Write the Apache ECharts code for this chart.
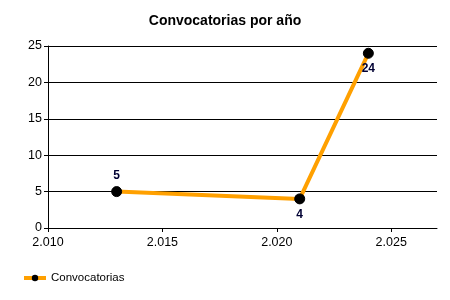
<!DOCTYPE html>
<html><head><meta charset="utf-8">
<script src="https://cdn.jsdelivr.net/npm/echarts@6/dist/echarts.min.js"></script>
<style>html,body{margin:0;padding:0;background:#fff}#c{width:450px;height:300px}</style>
</head><body><div id="c"></div>
<script>
const title = 'Convocatorias por año';
const seriesName = 'Convocatorias';
const years = [2013, 2021, 2024];
const values = [5, 4, 24];
const xTicks = [2010, 2015, 2020, 2025];

const fmt = v => { const s = String(Math.round(v)); return s.length > 3 ? s.slice(0, s.length - 3) + '.' + s.slice(-3) : s; };
const font = 'Liberation Sans, Arial, sans-serif';
const chart = echarts.init(document.getElementById('c'), null, {renderer: 'canvas'});
chart.setOption({
  animation: false,
  backgroundColor: '#fff',
  title: {text: title, left: 'center', top: 9, textStyle: {fontFamily: font, fontSize: 14, fontWeight: 'bold', color: '#000'}},
  grid: {left: 48, right: 13, top: 46, bottom: 72, containLabel: false},
  xAxis: {
    type: 'value', min: 2010, max: 2027, interval: 5,
    axisLine: {lineStyle: {color: '#000', width: 1}},
    axisTick: {show: true, length: 4, lineStyle: {color: '#000'}, customValues: xTicks},
    axisLabel: {color: '#000', fontFamily: font, fontSize: 12.5, margin: 8, formatter: fmt, customValues: xTicks},
    splitLine: {show: false}
  },
  yAxis: {
    type: 'value', min: 0, max: 25, interval: 5,
    axisLine: {show: true, lineStyle: {color: '#000', width: 1}},
    axisTick: {show: true, length: 4, lineStyle: {color: '#000'}},
    axisLabel: {color: '#000', fontFamily: font, fontSize: 12.5, margin: 6},
    splitLine: {show: true, lineStyle: {color: '#000', width: 1}}
  },
  legend: {
    left: 17, top: 267, itemWidth: 22, itemHeight: 8, itemGap: 6,
    lineStyle: {width: 4, color: '#FFA000'},
    textStyle: {fontFamily: font, fontSize: 11.5, color: '#000', padding: [0, 0, 0, 0]},
    data: [seriesName]
  },
  series: [{
    name: seriesName, type: 'line',
    data: years.map((y, i) => ({value: [y, values[i]], label: {position: i === 0 ? 'top' : 'bottom'}})),
    lineStyle: {color: '#FFA000', width: 4},
    itemStyle: {color: '#000', borderColor: '#000'},
    symbol: 'circle', symbolSize: 10,
    label: {show: true, fontFamily: font, fontSize: 12, fontWeight: 'bold', color: '#000033', distance: 4},
    z: 3
  }]
});
</script></body></html>
